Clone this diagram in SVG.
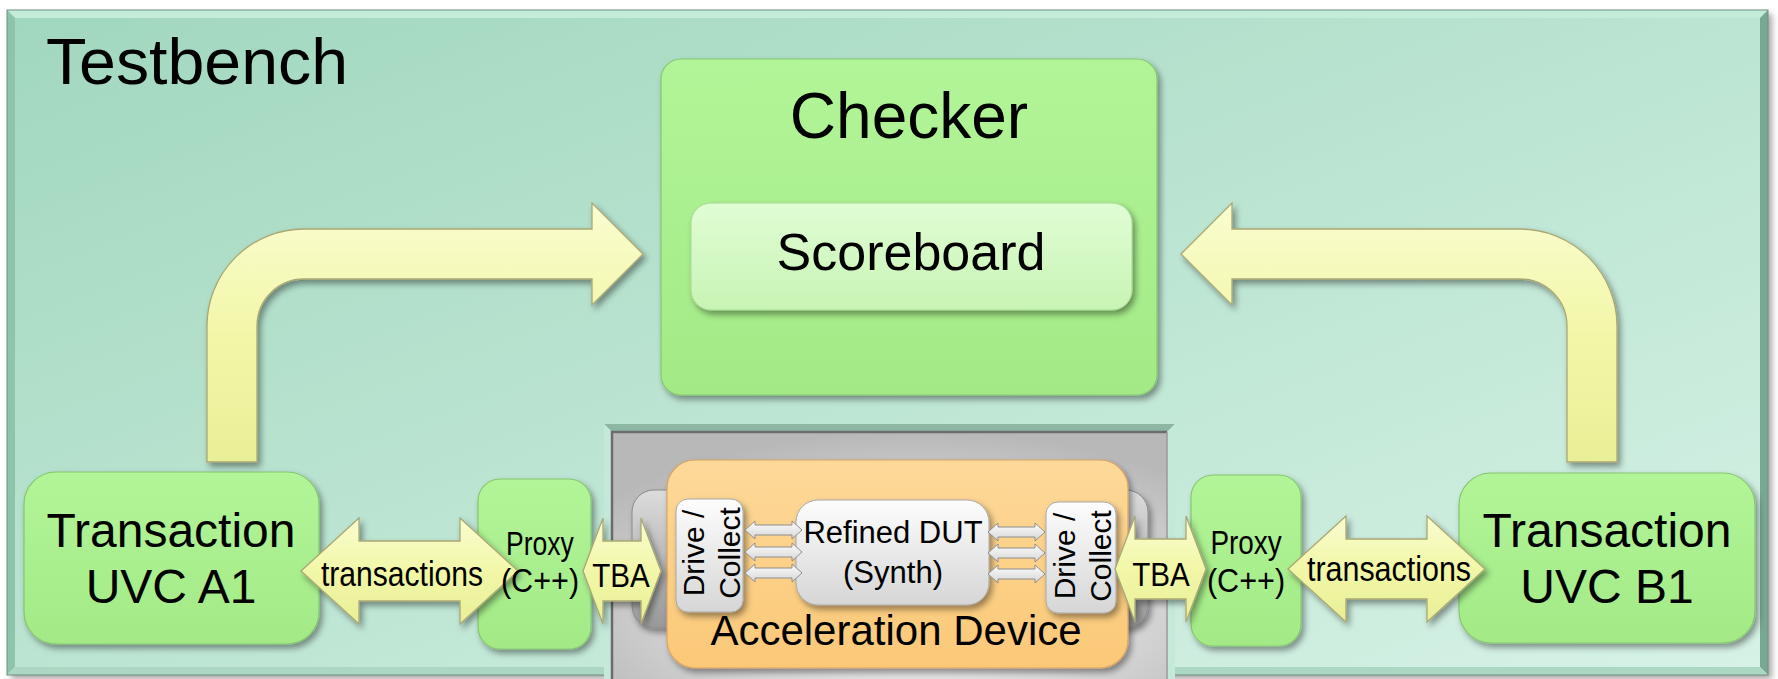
<svg xmlns="http://www.w3.org/2000/svg" width="1778" height="679" viewBox="0 0 1778 679">
  <defs>
    <linearGradient id="bgGrad" x1="0" y1="0" x2="1" y2="1">
      <stop offset="0" stop-color="#a1d7be"/>
      <stop offset="1" stop-color="#d6f2e6"/>
    </linearGradient>
    <linearGradient id="greenGrad" x1="0" y1="0" x2="0" y2="1">
      <stop offset="0" stop-color="#b2f598"/>
      <stop offset="1" stop-color="#a3ea86"/>
    </linearGradient>
    <linearGradient id="scoreGrad" x1="0" y1="0" x2="0" y2="1">
      <stop offset="0" stop-color="#e0fdd4"/>
      <stop offset="1" stop-color="#c8f4b4"/>
    </linearGradient>
    <linearGradient id="yellowGrad" x1="0" y1="0" x2="0" y2="1">
      <stop offset="0" stop-color="#fafcd0"/>
      <stop offset="0.5" stop-color="#f2f7a8"/>
      <stop offset="1" stop-color="#e9ef96"/>
    </linearGradient>
    <linearGradient id="orangeGrad" x1="0" y1="0" x2="0" y2="1">
      <stop offset="0" stop-color="#fdd999"/>
      <stop offset="1" stop-color="#fbc877"/>
    </linearGradient>
    <linearGradient id="whiteGrad" x1="0" y1="0" x2="0" y2="1">
      <stop offset="0" stop-color="#fdfdfd"/>
      <stop offset="1" stop-color="#d6d6d6"/>
    </linearGradient>
    <linearGradient id="grayGrad" x1="0" y1="0" x2="0" y2="1">
      <stop offset="0" stop-color="#dcdcdc"/>
      <stop offset="1" stop-color="#989898"/>
    </linearGradient>
    <radialGradient id="panelGrad" cx="0.55" cy="0.7" r="0.7">
      <stop offset="0" stop-color="#ffffff"/>
      <stop offset="1" stop-color="#b8b8b8"/>
    </radialGradient>
    <filter id="shadow" x="-10%" y="-10%" width="125%" height="130%">
      <feDropShadow dx="3" dy="4" stdDeviation="3" flood-color="#000" flood-opacity="0.4"/>
    </filter>
    <filter id="bgShadow" x="-2%" y="-2%" width="105%" height="110%">
      <feDropShadow dx="4" dy="4" stdDeviation="3" flood-color="#000" flood-opacity="0.35"/>
    </filter>
    <path id="miniArrow" d="M0,0 L10,-9 L10,-5 L47,-5 L47,-9 L57,0 L47,9 L47,5 L10,5 L10,9 Z"/>
    <style>
      .lbl { font-family: "Liberation Sans", Arial, sans-serif; fill: #000; }
      .mid { text-anchor: middle; }
      .green { fill: url(#greenGrad); stroke: #86c670; stroke-width: 1.2; filter: url(#shadow); }
      .yarrow { fill: url(#yellowGrad); stroke: #a9a874; stroke-width: 1.3; filter: url(#shadow); }
      .mini { fill: url(#whiteGrad); stroke: #8e8e8e; stroke-width: 1; }
      .dc { fill: url(#whiteGrad); stroke: #a8a8a8; stroke-width: 1; filter: url(#shadow); }
    </style>
  </defs>

  <!-- testbench frame -->
  <g id="testbench">
    <rect x="7" y="10" width="1761" height="665" fill="url(#bgGrad)" filter="url(#bgShadow)"/>
    <polygon points="7,10 1768,10 1760,18 15,18" fill="#c3ecd9"/>
    <polygon points="7,10 15,18 15,667 7,675" fill="#8fc4ab"/>
    <polygon points="1768,10 1768,675 1760,667 1760,18" fill="#78a793"/>
    <polygon points="7,675 15,667 1760,667 1768,675" fill="#acd8c3"/>
    <rect x="7" y="10" width="1761" height="665" fill="none" stroke="#6e8f80" stroke-width="1"/>
    <text class="lbl" x="46" y="84" font-size="64" textLength="302" lengthAdjust="spacingAndGlyphs">Testbench</text>
  </g>

  <!-- hardware panel inset into the frame -->
  <g id="hw-panel">
    <polygon points="604,424 1175,424 1167,432 612,432" fill="#8db7a3"/>
    <polygon points="604,424 612,432 612,679 604,679" fill="#c4e9d8"/>
    <polygon points="1167,432 1175,424 1175,679 1167,679" fill="#c4e9d8"/>
    <rect x="612" y="432" width="555" height="247" fill="url(#panelGrad)"/>
    <path d="M612,679 L612,432 L1167,432" fill="none" stroke="#6c6c6c" stroke-width="2.5"/>
    <path d="M1167,432 L1167,679" fill="none" stroke="#9a9a9a" stroke-width="1.5"/>
  </g>

  <!-- checker with scoreboard -->
  <g id="checker">
    <rect class="green" x="661" y="59" width="496" height="336" rx="20"/>
    <text class="lbl mid" x="909" y="138" font-size="64">Checker</text>
  </g>
  <g id="scoreboard">
    <rect x="691" y="203" width="441" height="107" rx="20" fill="url(#scoreGrad)" stroke="#a6d896" stroke-width="1" filter="url(#shadow)"/>
    <text class="lbl mid" x="911" y="270" font-size="52">Scoreboard</text>
  </g>

  <g id="uvc-a1">
    <rect class="green" x="24" y="472" width="295" height="172" rx="32"/>
    <text class="lbl mid" x="171" y="547" font-size="48">Transaction</text>
    <text class="lbl mid" x="171" y="603" font-size="48">UVC A1</text>
  </g>
  <g id="uvc-b1">
    <rect class="green" x="1459" y="473" width="296" height="170" rx="32"/>
    <text class="lbl mid" x="1607" y="547" font-size="48">Transaction</text>
    <text class="lbl mid" x="1607" y="603" font-size="48">UVC B1</text>
  </g>

  <g id="proxy-a">
    <rect class="green" x="478" y="479" width="113" height="170" rx="22"/>
  </g>
  <g id="proxy-b">
    <rect class="green" x="1191" y="475" width="110" height="171" rx="22"/>
  </g>

  <!-- acceleration device -->
  <g id="accel-base">
    <rect x="632" y="490" width="516" height="138" rx="22" fill="url(#grayGrad)" stroke="#8a8a8a" stroke-width="1" filter="url(#shadow)"/>
  </g>
  <g id="acceleration-device">
    <rect x="667" y="460" width="461" height="208" rx="28" fill="url(#orangeGrad)" stroke="#dba463" stroke-width="1.2" filter="url(#shadow)"/>
    <text class="lbl mid" x="896" y="645" font-size="42">Acceleration Device</text>
  </g>
  <g id="drive-collect-a">
    <rect class="dc" x="676" y="499" width="67" height="113" rx="12"/>
    <text class="lbl mid" font-size="30" transform="translate(710,553) rotate(-90)"><tspan x="0" y="-6">Drive /</tspan><tspan x="0" y="30">Collect</tspan></text>
  </g>
  <g id="refined-dut">
    <rect x="796" y="500" width="193" height="105" rx="22" fill="url(#whiteGrad)" stroke="#a8a8a8" stroke-width="1" filter="url(#shadow)"/>
    <text class="lbl mid" x="893" y="543" font-size="31">Refined DUT</text>
    <text class="lbl mid" x="893" y="583" font-size="31">(Synth)</text>
  </g>
  <g id="drive-collect-b">
    <rect class="dc" x="1046" y="502" width="70" height="111" rx="12"/>
    <text class="lbl mid" font-size="30" transform="translate(1082,556) rotate(-90)"><tspan x="0" y="-7">Drive /</tspan><tspan x="0" y="29">Collect</tspan></text>
  </g>

  <!-- connectors -->
  <g id="connectors">
    <path class="yarrow" d="M207,462 L207,326 A97,97 0 0 1 304,229 L592,229 L592,203 L643,254 L592,305 L592,279 L304,279 A47,47 0 0 0 257,326 L257,462 Z"/>
    <path class="yarrow" d="M1617,462 L1617,326 A97,97 0 0 0 1520,229 L1232,229 L1232,203 L1181,254 L1232,305 L1232,279 L1520,279 A47,47 0 0 1 1567,326 L1567,462 Z"/>

    <path class="yarrow" d="M301,571 L359,518 L359,541 L460,541 L460,518 L518,571 L460,624 L460,601 L359,601 L359,624 Z"/>
    <path class="yarrow" d="M583,571 L603,518 L603,541 L641,541 L641,518 L661,571 L641,624 L641,601 L603,601 L603,624 Z"/>
    <path class="yarrow" d="M1115,569 L1135,516 L1135,539 L1186,539 L1186,516 L1206,569 L1186,622 L1186,599 L1135,599 L1135,622 Z"/>
    <path class="yarrow" d="M1288,569 L1346,516 L1346,539 L1427,539 L1427,516 L1485,569 L1427,622 L1427,599 L1346,599 L1346,622 Z"/>

    <use href="#miniArrow" class="mini" x="745" y="530"/>
    <use href="#miniArrow" class="mini" x="745" y="552"/>
    <use href="#miniArrow" class="mini" x="745" y="573"/>
    <use href="#miniArrow" class="mini" x="988" y="532"/>
    <use href="#miniArrow" class="mini" x="988" y="553"/>
    <use href="#miniArrow" class="mini" x="988" y="574"/>

    <!-- condensed connector labels -->
    <text class="lbl mid" font-size="35" transform="translate(402,586) scale(0.86,1)">transactions</text>
    <text class="lbl mid" font-size="34" transform="translate(621,587) scale(0.87,1)">TBA</text>
    <text class="lbl mid" font-size="34" transform="translate(1161,586) scale(0.87,1)">TBA</text>
    <text class="lbl mid" font-size="35" transform="translate(1389,581) scale(0.87,1)">transactions</text>
  </g>

  <!-- proxy labels sit above the arrowheads -->
  <g id="proxy-labels">
    <text class="lbl mid" font-size="34" transform="translate(540,555) scale(0.78,1)">Proxy</text>
    <text class="lbl mid" font-size="34" transform="translate(540,592) scale(0.9,1)">(C++)</text>
    <text class="lbl mid" font-size="34" transform="translate(1246,554) scale(0.82,1)">Proxy</text>
    <text class="lbl mid" font-size="34" transform="translate(1246,592) scale(0.9,1)">(C++)</text>
  </g>
</svg>
